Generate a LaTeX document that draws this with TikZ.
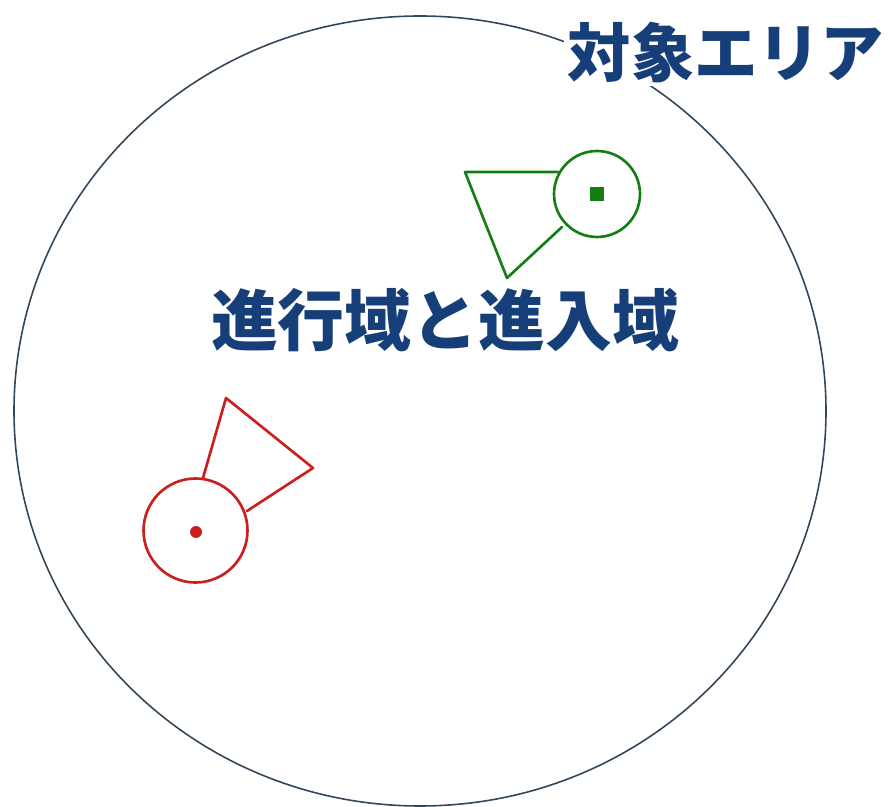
\documentclass[tikz,border=0pt]{standalone}
\usepackage{fontspec}
\newfontfamily\jpfont{Noto Sans CJK JP}
\usetikzlibrary{positioning}
\definecolor{areablue}{RGB}{22,62,120}
\definecolor{rimgray}{RGB}{50,70,90}
\definecolor{entgreen}{RGB}{20,125,20}
\definecolor{outred}{RGB}{205,30,30}

\begin{document}
\begin{tikzpicture}[x=0.01cm,y=-0.01cm,line cap=round,line join=round,
  rim/.style={line width=0.45pt,color=rimgray},
  zone/.style={line width=0.75pt},
  title/.style={font=\jpfont\bfseries,text=areablue,inner sep=1pt}]
\useasboundingbox (0,0) rectangle (888,807);
% target area
\draw [rim] (420,411) ellipse [x radius=406, y radius=395];
\node [title,fill=white,font=\jpfont\bfseries\fontsize{18pt}{20pt}\selectfont] (area) at (726,52) {対象エリア};
\node [title,font=\jpfont\bfseries\fontsize{19pt}{21pt}\selectfont] (zones) at (445,320) {進行域と進入域};
% green one
\draw [zone,color=entgreen] (597,194) circle (43);
\fill [color=entgreen] (590,187) rectangle (604,201);
\draw [zone,color=entgreen] (558,172)-- (465,172)-- (507,278)-- (562,227);
% red one
\draw [zone,color=outred] (195.5,530.5) circle (52);
\fill [color=outred] (196,532) circle (6);
\draw [zone,color=outred] (203,478)-- (226,398)-- (313,468)-- (247,511);
\end{tikzpicture}
\end{document}
